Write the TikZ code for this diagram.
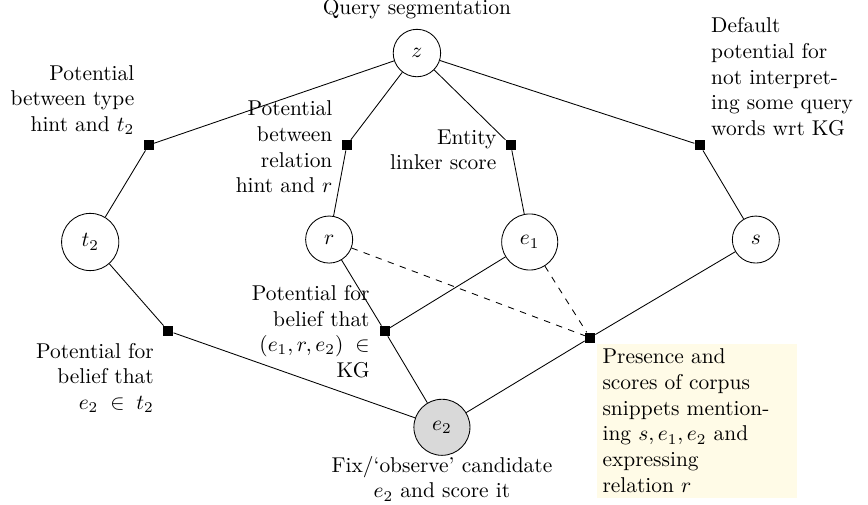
\documentclass[tikz,border=0pt]{standalone}
\usepackage{tikz}
\definecolor{notebg}{RGB}{255,251,231}
\begin{document}
\begin{tikzpicture}
\useasboundingbox (0,0) rectangle (14.24,8.28);

\tikzstyle{vertex}=[circle,draw,minimum size=0.6cm,inner sep=5.5pt]
\tikzstyle{factor}=[rectangle,fill=black,minimum size=4.6pt,inner sep=0pt]
\tikzstyle{note}=[inner sep=0pt]
  \foreach \name/\x/\y/\txt in {z/6.84/7.41/z, t2/1.48/4.31/t_2, r/5.40/4.35/r, e1/8.69/4.31/e_1, s/12.40/4.35/s}
    \node[vertex] (\name) at (\x,\y) {$\txt$};
  \node[vertex,fill=black!15] (e2) at (7.25,1.27) {$e_2$};
  \foreach \name/\x/\y in {F-t2/2.44/5.90, F-r/5.69/5.90, F-e1/8.38/5.90, F-s/11.48/5.90, F-te/2.76/2.85, F-kg/6.31/2.85, F-c/9.68/2.74}
    \node[factor] (\name) at (\x,\y) {};
  \foreach \from/\to in {z/F-t2, F-t2/t2, z/F-r, F-r/r, z/F-e1, F-e1/e1, z/F-s, F-s/s, t2/F-te, F-te/e2, r/F-kg, e1/F-kg, F-kg/e2, s/F-c, F-c/e2}
    { \draw (\from) -- (\to); }
  \foreach \from in {r,e1}
    { \draw[dashed] (\from) -- (F-c); }

  \node[above=1pt] (L-z) at (z.north) {Query segmentation};
  \node[note,anchor=east,align=right] (L-t2) at (2.21,6.64) {Potential\\between type\\hint and $t_2$};
  \node[note,anchor=east,align=right] (L-r) at (5.46,5.87) {Potential\\between\\relation\\hint and $r$};
  \node[note,anchor=east,align=right] (L-e1) at (8.15,5.82) {Entity\\linker score};
  \node[note,anchor=west,align=left] (L-s) at (11.66,7.02) {Default\\potential for\\not interpret-\\ing some query\\words wrt KG};
  \node[note,anchor=east,align=right] (L-te) at (2.53,2.08) {Potential for\\belief that\\$e_2\;\in\;t_2$};
  \node[note,anchor=east,align=right] (L-kg) at (6.07,2.84) {Potential for\\belief that\\$(e_1,r,e_2)\;\in$\\KG};
  \node[note,anchor=north,align=center] (L-e2) at (e2.south) {Fix/`observe' candidate\\$e_2$ and score it};
  \node[fill=notebg,anchor=north west,text width=3.1cm,align=left,inner sep=2.5pt] (L-c) at (9.79,2.65) {Presence and\\scores of corpus\\snippets mention-\\ing $s,e_1,e_2$ and\\expressing\\relation $r$};

        \end{tikzpicture}
\end{document}
